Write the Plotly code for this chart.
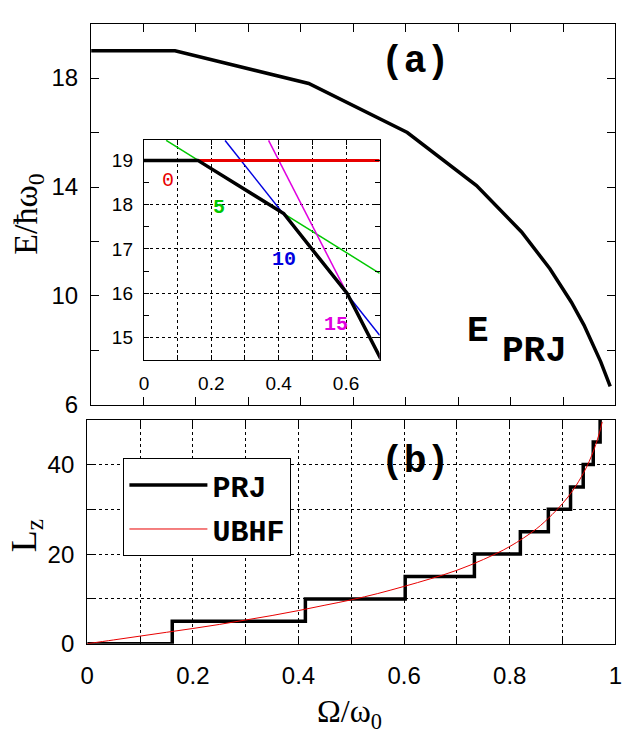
import plotly.graph_objects as go

# ---------------- data ----------------
# panel (a): projected energy vs rotational frequency
omega_e = [0, 0.16, 0.415, 0.603, 0.735, 0.821, 0.875, 0.916, 0.94, 0.958, 0.972, 0.99]
e_prj = [19.0, 19.0, 17.8, 16.0, 14.05, 12.35, 11.0, 9.77, 8.93, 8.21, 7.58, 6.68]

# inset: energies of fixed-L states
omega_l0 = [0, 0.7]
e_l0 = [19.0, 19.0]
omega_l5 = [0.066, 0.7]
e_l5 = [19.45, 16.45]
omega_l10 = [0.241, 0.7]
e_l10 = [19.45, 15.05]
omega_l15 = [0.37, 0.7]
e_l15 = [19.45, 14.56]

# panel (b): angular momentum
omega_prj = [0, 0.161, 0.413, 0.602, 0.733, 0.820, 0.873, 0.915, 0.939, 0.958, 0.971]
lz_prj = [0, 5, 10, 15, 20, 25, 30, 35, 40, 45, 50]

omega_ubhf = [0, 0.05, 0.1, 0.15, 0.2, 0.25, 0.3, 0.35, 0.4, 0.45, 0.5, 0.55, 0.6, 0.65,
              0.7, 0.75, 0.8, 0.85, 0.88, 0.9, 0.92, 0.94, 0.95, 0.96, 0.97, 0.975]
lz_ubhf = [0, 0.85, 1.7, 2.55, 3.4, 4.3, 5.3, 6.3, 7.4, 8.6, 9.8, 11.2, 12.8, 14.5,
           16.4, 18.8, 21.7, 25.6, 28.8, 31.3, 34.3, 38.2, 40.6, 43.5, 47.2, 49.5]

# tick labels
xa_ticks = [0, 0.1, 0.2, 0.3, 0.4, 0.5, 0.6, 0.7, 0.8, 0.9, 1.0]
xb_text = ['0', '', '0.2', '', '0.4', '', '0.6', '', '0.8', '', '1']
ya_ticks = [6, 8, 10, 12, 14, 16, 18, 20]
ya_text = ['6', '', '10', '', '14', '', '18', '']
yb_ticks = [0, 10, 20, 30, 40, 50]
yb_text = ['0', '', '20', '', '40', '']
xi_ticks = [0, 0.1, 0.2, 0.3, 0.4, 0.5, 0.6, 0.7]
xi_text = ['0', '', '0.2', '', '0.4', '', '0.6', '']
yi_ticks = [15, 16, 17, 18, 19]

inset_labels = ['0', '<b>5</b>', '<b>10</b>', '<b>15</b>']
inset_label_x = [0.072, 0.222, 0.415, 0.57]
inset_label_y = [18.54, 17.93, 16.77, 15.3]

# ---------------- styling ----------------
W, H = 642, 756
RED, GREEN, BLUE, MAG = '#e80000', '#00c800', '#0000e0', '#e000e0'
COLORS = [RED, GREEN, BLUE, MAG]
SANS = 'Liberation Sans, Arial, sans-serif'
MONO = 'Liberation Mono, Courier New, monospace'
SERIF = 'Liberation Serif, Times New Roman, serif'

fig = go.Figure()

# panel (a)
fig.add_trace(go.Scatter(x=omega_e, y=e_prj, mode='lines', xaxis='x', yaxis='y',
                         line=dict(color='black', width=3.5), showlegend=False))

# panel (b)
fig.add_trace(go.Scatter(x=omega_prj, y=lz_prj, mode='lines', xaxis='x2', yaxis='y2',
                         line=dict(color='black', width=3.5, shape='hv'),
                         name='<b>PRJ</b>', legendgroup='a'))
fig.add_trace(go.Scatter(x=omega_ubhf, y=lz_ubhf, mode='lines', xaxis='x2', yaxis='y2',
                         line=dict(color=RED, width=1, shape='spline'),
                         name='<b>UBHF</b>', legendgroup='b'))

# inset
for xs, ys, c, w in [(omega_l5, e_l5, GREEN, 1.5), (omega_l10, e_l10, BLUE, 1.5),
                     (omega_l15, e_l15, MAG, 1.5), (omega_l0, e_l0, RED, 3)]:
    fig.add_trace(go.Scatter(x=xs, y=ys, mode='lines', xaxis='x3', yaxis='y3',
                             line=dict(color=c, width=w), showlegend=False))
fig.add_trace(go.Scatter(x=omega_e, y=e_prj, mode='lines', xaxis='x3', yaxis='y3',
                         line=dict(color='black', width=3.5), showlegend=False))

axis_common = dict(showline=True, linecolor='black', linewidth=1.3, mirror='ticks',
                   ticks='inside', tickcolor='black', tickwidth=1, zeroline=False,
                   tickfont=dict(family=SANS, size=24, color='black'))
grid = dict(showgrid=True, gridcolor='black', griddash='dot', gridwidth=1)

fig.update_layout(
    width=W, height=H,
    margin=dict(l=0, r=0, t=0, b=0),
    paper_bgcolor='white', plot_bgcolor='white',
    xaxis=dict(axis_common, domain=[86 / W, 622 / W], range=[0, 1], anchor='y',
               tickvals=xa_ticks, showticklabels=False, ticklen=8, showgrid=False),
    yaxis=dict(axis_common, domain=[1 - 412 / H, 1 - 24 / H], range=[6, 20], anchor='x',
               tickvals=ya_ticks, ticktext=ya_text, ticklen=8, showgrid=False,
               ticklabelstandoff=7),
    xaxis2=dict(axis_common, **grid, domain=[82 / W, 622 / W], range=[0, 1], anchor='y2',
                tickvals=xa_ticks, ticktext=xb_text, ticklen=6, ticklabelstandoff=10),
    yaxis2=dict(axis_common, **grid, domain=[1 - 655 / H, 1 - 427 / H], range=[0, 50],
                anchor='x2', tickvals=yb_ticks, ticktext=yb_text, ticklen=6,
                ticklabelstandoff=7),
    xaxis3=dict(axis_common, **grid, domain=[140 / W, 381 / W], range=[0, 0.7], anchor='y3',
                tickvals=xi_ticks, ticktext=xi_text, ticklen=5,
                tickfont=dict(family=SANS, size=19, color='black'), ticklabelstandoff=6),
    yaxis3=dict(axis_common, **grid, domain=[1 - 366 / H, 1 - 142 / H], range=[14.5, 19.47],
                anchor='x3', tickvals=yi_ticks, ticklen=5,
                minor=dict(ticks='inside', dtick=0.5, tick0=14.5, ticklen=5,
                           tickcolor='black', showgrid=False),
                tickfont=dict(family=SANS, size=19, color='black'), ticklabelstandoff=6),
    legend=dict(x=119 / W, y=1 - 466 / H, xanchor='left', yanchor='top',
                bordercolor='black', borderwidth=1, bgcolor='white',
                font=dict(family=MONO, size=30, color='black'),
                itemwidth=78, tracegroupgap=2),
    showlegend=True,
)

def pann(text, px, py, font, **kw):
    d = dict(text=text, x=px / W, y=1 - py / H, xref='paper', yref='paper',
             xanchor='center', yanchor='middle', showarrow=False, font=font)
    d.update(kw)
    return d

ann = [
    pann('<b>(a)</b>', 417, 63, dict(family=MONO, size=38, color='black')),
    pann('<b>(b)</b>', 417, 470, dict(family=MONO, size=38, color='black')),
    pann('<b>E</b>', 482, 337, dict(family=MONO, size=36, color='black')),
    pann('<b>PRJ</b>', 539, 358, dict(family=MONO, size=36, color='black')),
    pann('E/ħω<sub>0</sub>', 22, 218, dict(family=SERIF, size=34, color='black'), textangle=-90),
    pann('L<sub>z</sub>', 20, 545, dict(family=SERIF, size=36, color='black'), textangle=-90),
    pann('Ω/ω<sub>0</sub>', 350, 726, dict(family=SERIF, size=32, color='black')),
]
for t, lx, ly, c in zip(inset_labels, inset_label_x, inset_label_y, COLORS):
    ann.append(dict(text=t, x=lx, y=ly, xref='x3', yref='y3', xanchor='center',
                    yanchor='middle', showarrow=False,
                    font=dict(family=MONO, size=20, color=c)))
fig.update_layout(annotations=ann)

fig.write_html('out.html', config={'displayModeBar': False},
               post_script="document.body.style.margin='0';")
